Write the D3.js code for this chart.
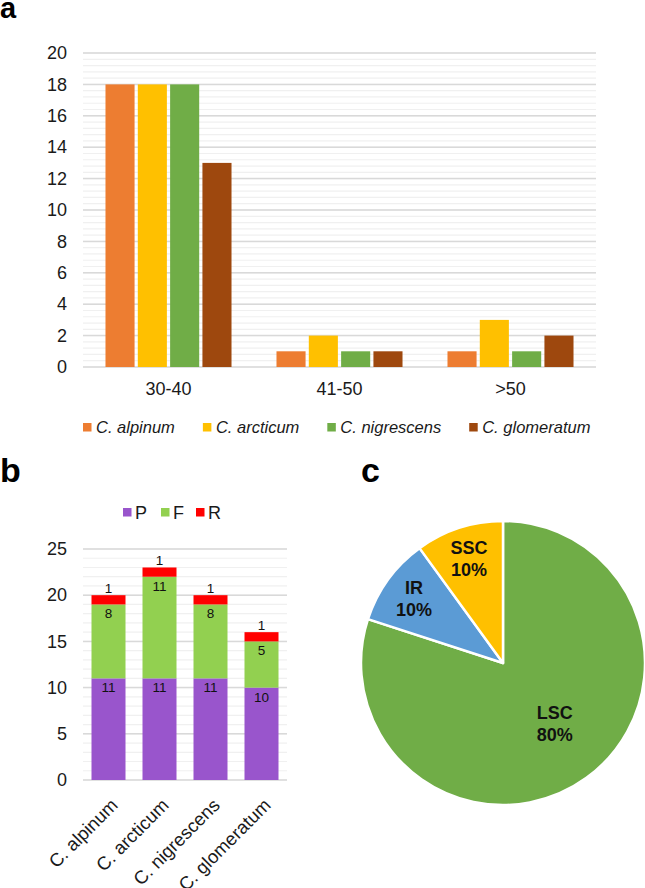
<!DOCTYPE html>
<html><head><meta charset="utf-8">
<script src="https://cdn.jsdelivr.net/npm/d3@7"></script>
<style>
body{margin:0;background:#fff;}
svg{display:block;font-family:"Liberation Sans",Arial,sans-serif;}
</style></head>
<body><svg id="c" width="645" height="888"></svg>
<script>
// ---------- Panel a data ----------
const ageGroups = ["30-40", "41-50", ">50"];
const speciesA = ["C. alpinum", "C. arcticum", "C. nigrescens", "C. glomeratum"];
const alpinumA = [18, 1, 1];
const arcticumA = [18, 2, 3];
const nigrescensA = [18, 1, 1];
const glomeratumA = [13, 1, 2];
const colorsA = ["#ED7D31", "#FFC000", "#70AD47", "#9E480E"];
const ticksA = [0, 2, 4, 6, 8, 10, 12, 14, 16, 18, 20];

// ---------- Panel b data ----------
const speciesB = ["C. alpinum", "C. arcticum", "C. nigrescens", "C. glomeratum"];
const partsB = ["P", "F", "R"];
const valP = [11, 11, 11, 10];
const valF = [8, 11, 8, 5];
const valR = [1, 1, 1, 1];
const colorsB = ["#9955CC", "#92D050", "#FF0000"];
const ticksB = [0, 5, 10, 15, 20, 25];

// ---------- Panel c data ----------
const regions = ["LSC", "IR", "SSC"];
const regionPct = [80, 10, 10];
const colorsC = ["#70AD47", "#5B9BD5", "#FFC000"];

const svg = d3.select("#c");
const txt = "#1a1a1a";

// panel letters
svg.append("text").attr("x", 0).attr("y", 18).attr("font-size", 29).attr("font-weight", "bold").text("a");
svg.append("text").attr("x", 0).attr("y", 482).attr("font-size", 34).attr("font-weight", "bold").text("b");
svg.append("text").attr("x", 361).attr("y", 482).attr("font-size", 34).attr("font-weight", "bold").text("c");

// ================= Panel a =================
{
  const seriesVals = [alpinumA, arcticumA, nigrescensA, glomeratumA];
  const L = 83, Rr = 596;
  const y = d3.scaleLinear().domain([0, 20]).range([367, 53]);
  const x0 = d3.scaleBand().domain(ageGroups).range([L, Rr]).paddingInner(0.263).paddingOuter(0.1315);
  const x1 = d3.scaleBand().domain(speciesA).range([0, x0.bandwidth()]).paddingInner(0.1).paddingOuter(0);
  const g = svg.append("g");
  const minor = d3.range(0, 20.001, 0.4);
  g.append("g").selectAll("line").data(minor).join("line")
    .attr("x1", L).attr("x2", Rr).attr("y1", d => y(d)).attr("y2", d => y(d))
    .attr("stroke", "#f0f0f0").attr("stroke-width", 1.2);
  g.append("g").selectAll("line").data(ticksA).join("line")
    .attr("x1", L).attr("x2", Rr).attr("y1", d => y(d)).attr("y2", d => y(d))
    .attr("stroke", "#d9d9d9").attr("stroke-width", 1.5);
  ageGroups.forEach((grp, i) => {
    speciesA.forEach((sp, j) => {
      g.append("rect")
        .attr("x", x0(grp) + x1(sp)).attr("width", x1.bandwidth())
        .attr("y", y(seriesVals[j][i])).attr("height", y(0) - y(seriesVals[j][i]))
        .attr("fill", colorsA[j]);
    });
  });
  const ax = d3.axisLeft(y).tickValues(ticksA).tickSize(0).tickPadding(0);
  const ag = g.append("g").attr("transform", "translate(67,0)").call(ax);
  ag.select(".domain").remove();
  ag.selectAll("text").attr("font-size", 18).attr("fill", txt).attr("font-family", "Liberation Sans, Arial, sans-serif");
  const xa = d3.axisBottom(x0).tickSize(0).tickPadding(0);
  const xg = g.append("g").attr("transform", "translate(0,382)").call(xa);
  xg.select(".domain").remove();
  xg.selectAll("text").attr("font-size", 18).attr("fill", txt).attr("font-family", "Liberation Sans, Arial, sans-serif");
  const lg = g.append("g");
  let lx = 83;
  speciesA.forEach((sp, j) => {
    lg.append("rect").attr("x", lx).attr("y", 423).attr("width", 8.5).attr("height", 8.5).attr("fill", colorsA[j]);
    const t = lg.append("text").attr("x", lx + 13).attr("y", 433).attr("font-size", 16.5)
      .attr("font-style", "italic").attr("fill", txt).text(sp);
    lx += 13 + t.node().getComputedTextLength() + 28;
  });
}

// ================= Panel b =================
{
  const y = d3.scaleLinear().domain([0, 25]).range([780, 549]);
  const x = d3.scaleBand().domain(speciesB).range([83, 287]).paddingInner(1/3).paddingOuter(1/6);
  const g = svg.append("g");
  g.append("g").selectAll("line").data(d3.range(0, 26, 1)).join("line")
    .attr("x1", 83).attr("x2", 287).attr("y1", d => y(d)).attr("y2", d => y(d))
    .attr("stroke", "#f0f0f0").attr("stroke-width", 1.2);
  g.append("g").selectAll("line").data(ticksB).join("line")
    .attr("x1", 83).attr("x2", 287).attr("y1", d => y(d)).attr("y2", d => y(d))
    .attr("stroke", "#d9d9d9").attr("stroke-width", 1.5);
  const rows = speciesB.map((s, i) => ({ sp: s, P: valP[i], F: valF[i], R: valR[i] }));
  const stack = d3.stack().keys(partsB)(rows);
  stack.forEach((layer, k) => {
    layer.forEach(d => {
      const cx = x(d.data.sp);
      g.append("rect").attr("x", cx).attr("width", x.bandwidth())
        .attr("y", y(d[1])).attr("height", y(d[0]) - y(d[1])).attr("fill", colorsB[k]);
      const v = d[1] - d[0];
      const ly = k === 2 ? y(d[1]) - 2 : y(d[1]) + 14;
      g.append("text").attr("x", cx + x.bandwidth() / 2).attr("y", ly)
        .attr("text-anchor", "middle").attr("font-size", 13.5).attr("fill", "#111").text(v);
    });
  });
  const ax = d3.axisLeft(y).tickValues(ticksB).tickSize(0).tickPadding(0);
  const ag = g.append("g").attr("transform", "translate(67,0)").call(ax);
  ag.select(".domain").remove();
  ag.selectAll("text").attr("font-size", 18).attr("fill", txt).attr("font-family", "Liberation Sans, Arial, sans-serif");
  speciesB.forEach(sp => {
    g.append("text")
      .attr("transform", `translate(${x(sp) + x.bandwidth() / 2 + 1},${797}) rotate(-45)`)
      .attr("text-anchor", "end").attr("dy", "0.72em").attr("font-size", 18.5).attr("fill", txt).text(sp);
  });
  const legX = [123, 161, 196];
  partsB.forEach((p, k) => {
    g.append("rect").attr("x", legX[k]).attr("y", 508).attr("width", 8.5).attr("height", 8.5).attr("fill", colorsB[k]);
    g.append("text").attr("x", legX[k] + 12).attr("y", 518.5).attr("font-size", 18).attr("fill", txt).text(p);
  });
}

// ================= Panel c =================
{
  const cx = 503, cy = 663, R = 142;
  const data = regions.map((r, i) => ({ name: r, v: regionPct[i], c: colorsC[i] }));
  const pie = d3.pie().value(d => d.v).sort(null);
  const arcs = pie(data);
  const arc = d3.arc().innerRadius(0).outerRadius(R);
  const g = svg.append("g").attr("transform", `translate(${cx},${cy})`);
  g.selectAll("path").data(arcs).join("path").attr("d", arc)
    .attr("fill", d => d.data.c).attr("stroke", "#fff").attr("stroke-width", 2.5).attr("stroke-linejoin", "round");
  arcs.forEach(a => {
    const lr = a.data.name === "LSC" ? 78 : 110;
    const la = d3.arc().innerRadius(lr).outerRadius(lr);
    let [px, py] = la.centroid(a);
    if (a.data.name === "LSC") { px += 6; py -= 3; }
    const t = g.append("text").attr("text-anchor", "middle").attr("font-size", 18).attr("font-weight", "bold").attr("fill", "#111");
    t.append("tspan").attr("x", px).attr("y", py - 4).text(a.data.name);
    t.append("tspan").attr("x", px).attr("y", py + 18).text(a.data.v + "%");
  });
}
</script>
</body></html>
